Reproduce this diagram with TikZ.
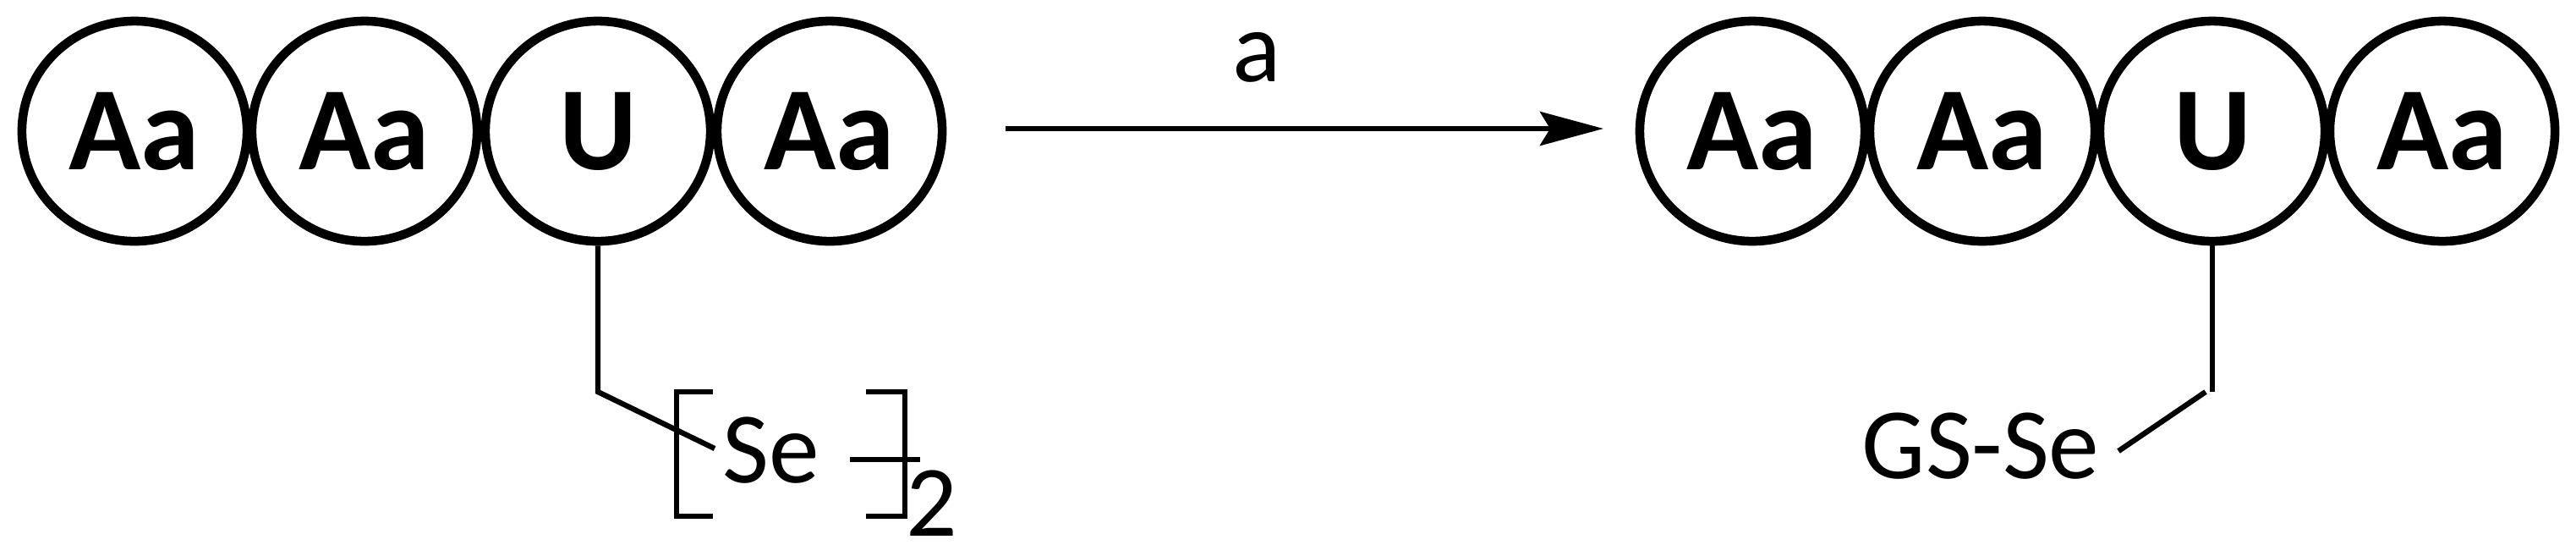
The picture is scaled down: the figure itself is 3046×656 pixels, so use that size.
\documentclass[tikz,border=0pt]{standalone}
\usepackage{fontspec}
\setmainfont{Carlito}
\usetikzlibrary{arrows.meta,shapes.geometric}
\begin{document}
\begin{tikzpicture}[x=0.01cm,y=-0.01cm,
  res/.style={draw,line width=3pt,ellipse,minimum width=2.66cm,minimum height=2.6cm,inner sep=0pt,font=\fontsize{40}{46}\selectfont\bfseries},
  bond/.style={line width=1.8pt},
  lbl/.style={font=\fontsize{34}{40}\selectfont,inner sep=0pt}]
\useasboundingbox (0,0) rectangle (3046,656);
\foreach \n/\x/\t in {l1/159/Aa,l2/431/Aa,l3/707/U,l4/981/Aa,r1/2072/Aa,r2/2344/Aa,r3/2616/U,r4/2888/Aa}
  \node[res] (\n) at (\x,155) {\t};
\draw[line width=1.8pt,-{Stealth[length=0.75cm,width=0.4cm,inset=0.12cm]}] (1189,152) coordinate (as) -- (1896,152) coordinate (ae);
\node[lbl] (alab) at (1486,68) {a};
% left substituent
\coordinate (lk) at (707,463);
\coordinate (le) at (845,530);
\draw[bond] (l3.south) -- (lk) -- (le);
\node[lbl] (se) at (912,532) {Se};
\draw[bond] (843,463) -- (800,463) -- (800,610) -- (843,610);
\draw[bond] (1024,463) -- (1070,463) -- (1070,610) -- (1024,610);
\draw[bond] (1005,543) -- (1088,543);
\node[lbl] (two) at (1102,595) {2};
% right substituent
\coordinate (rk) at (2616,463);
\coordinate (rk2) at (2608,463);
\coordinate (re) at (2505,533);
\draw[bond] (r3.south) -- (rk);
\draw[bond] (rk2) -- (re);
\node[lbl] (gsse) at (2342,527) {GS-Se};
\end{tikzpicture}
\end{document}
